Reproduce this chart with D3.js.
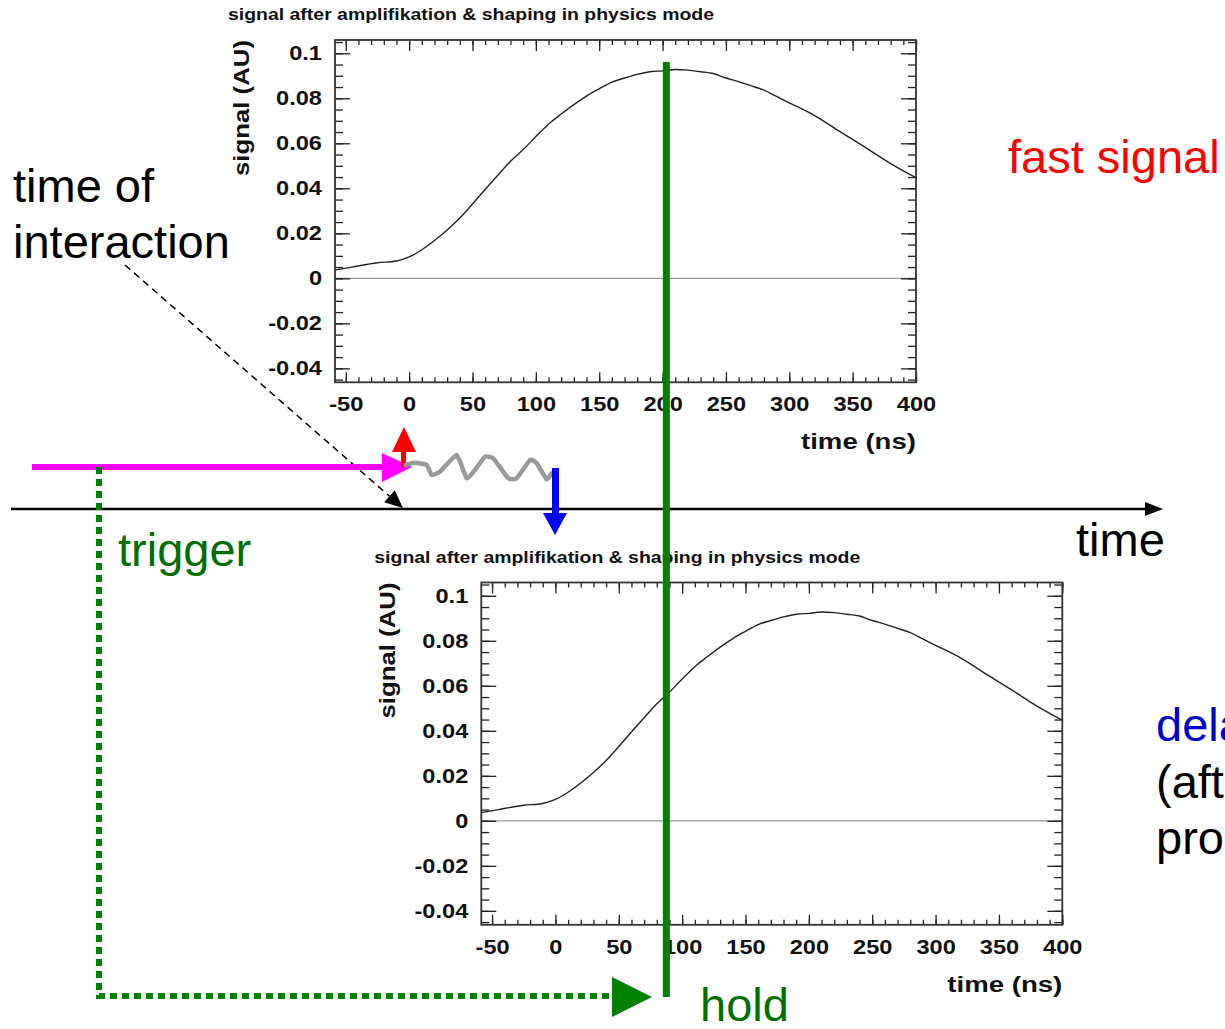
<!DOCTYPE html>
<html>
<head>
<meta charset="utf-8">
<script src="https://cdn.jsdelivr.net/npm/d3@7"></script>
<style>
  body { margin: 0; background: #fff; }
  svg { display: block; }
  .big { font-family: "Liberation Sans", Arial, sans-serif; font-size: 47px; }
  .bold { font-family: "Liberation Sans", Arial, sans-serif; font-weight: bold; }
</style>
</head>
<body>
<div class="chart"></div>
<script>
// shaped signal (AU) vs time (ns)
const times = [-58, -45, -25, -10, 0, 10, 20, 30, 40, 50, 60, 70, 80, 90, 100, 110, 120, 130, 140, 150,
  160, 170, 180, 190, 200, 210, 220, 230, 240, 250, 260, 270, 280, 290, 300, 320, 340, 360, 380, 400];
const signal = [0.0037, 0.0050, 0.0069, 0.0077, 0.0095, 0.0127, 0.0168, 0.0215, 0.0268, 0.0330,
  0.0395, 0.0458, 0.0520, 0.0572, 0.0630, 0.0685, 0.0730, 0.0772, 0.0810, 0.0842,
  0.0872, 0.0890, 0.0906, 0.0918, 0.0922, 0.0928, 0.0925, 0.0918, 0.0910, 0.0890,
  0.0874, 0.0855, 0.0836, 0.0808, 0.0780, 0.0723, 0.0652, 0.0582, 0.0510, 0.0447];

const xTicks = [-50, 0, 50, 100, 150, 200, 250, 300, 350, 400];
const xTickLabels = ["-50", "0", "50", "100", "150", "200", "250", "300", "350", "400"];
const yTicks = [-0.04, -0.02, 0, 0.02, 0.04, 0.06, 0.08, 0.1];
const yTickLabels = ["-0.04", "-0.02", "0", "0.02", "0.04", "0.06", "0.08", "0.1"];

const plotTitle = "signal after amplifikation & shaping in physics mode";
const xTitle = "time (ns)";
const yTitle = "signal (AU)";
const holdTime = 203; // ns, on the upper (fast) plot

var W = 1225, H = 1029;
var pw = 581, ph = 342.3;

const svg = d3.select(".chart").append("svg")
  .attr("width", W).attr("height", H);

var x = d3.scaleLinear().domain([-58.5, 400]).range([0, pw]);
var y = d3.scaleLinear().domain([-0.0462, 0.1059]).range([ph, 0]);

function stretch(sel, f) {
  sel.each(function () {
    var len = this.getComputedTextLength();
    d3.select(this).attr("textLength", len * f).attr("lengthAdjust", "spacingAndGlyphs");
  });
}

function drawPlot(left, top) {
  const g = svg.append("g").attr("transform", "translate(" + left + "," + top + ")");

  // zero line
  g.append("line")
    .attr("x1", 0).attr("x2", pw).attr("y1", y(0)).attr("y2", y(0))
    .attr("stroke", "#999").attr("stroke-width", 1.2);

  // curve
  var line = d3.line().x((d, i) => x(times[i])).y(d => y(d)).curve(d3.curveMonotoneX);
  g.append("path").datum(signal)
    .attr("d", line).attr("fill", "none")
    .attr("stroke", "#222").attr("stroke-width", 1.4);

  var xMinor = d3.range(-50, 401, 10);
  var yMinor = d3.range(-0.045, 0.1051, 0.005);

  function tidy(a) {
    a.select(".domain").remove();
    a.attr("font-size", null).attr("font-family", null);
    a.selectAll("line").attr("stroke", "#222").attr("stroke-width", 1.3);
  }

  // minor ticks, all four sides
  g.append("g").attr("transform", "translate(0," + ph + ")")
    .call(d3.axisBottom(x).tickValues(xMinor).tickSize(-5).tickFormat("")).call(tidy);
  g.append("g")
    .call(d3.axisTop(x).tickValues(xMinor).tickSize(-5).tickFormat("")).call(tidy);
  g.append("g")
    .call(d3.axisLeft(y).tickValues(yMinor).tickSize(-8).tickFormat("")).call(tidy);
  g.append("g").attr("transform", "translate(" + pw + ",0)")
    .call(d3.axisRight(y).tickValues(yMinor).tickSize(-8).tickFormat("")).call(tidy);

  // major ticks
  var xb = g.append("g").attr("class", "bold").attr("transform", "translate(0," + ph + ")")
    .call(d3.axisBottom(x).tickValues(xTicks).tickSize(-10).tickPadding(15)
      .tickFormat((d, i) => xTickLabels[i])).call(tidy);
  g.append("g")
    .call(d3.axisTop(x).tickValues(xTicks).tickSize(-11).tickFormat("")).call(tidy);
  var yl = g.append("g").attr("class", "bold")
    .call(d3.axisLeft(y).tickValues(yTicks).tickSize(-15).tickPadding(13)
      .tickFormat((d, i) => yTickLabels[i])).call(tidy);
  g.append("g").attr("transform", "translate(" + pw + ",0)")
    .call(d3.axisRight(y).tickValues(yTicks).tickSize(-15).tickFormat("")).call(tidy);

  xb.selectAll("text").style("font-size", "20px").attr("fill", "#111");
  yl.selectAll("text").style("font-size", "20px").attr("fill", "#111");
  stretch(xb.selectAll("text"), 1.18);
  stretch(yl.selectAll("text"), 1.18);

  // frame
  g.append("rect").attr("width", pw).attr("height", ph)
    .attr("fill", "none").attr("stroke", "#333").attr("stroke-width", 1.8);

  // titles
  g.append("text").attr("class", "bold")
    .attr("x", -107).attr("y", -20)
    .style("font-size", "17px").attr("fill", "#111")
    .attr("textLength", 486).attr("lengthAdjust", "spacingAndGlyphs")
    .text(plotTitle);
  g.append("text").attr("class", "bold")
    .attr("x", pw).attr("y", 409).attr("text-anchor", "end")
    .style("font-size", "22px").attr("fill", "#111")
    .attr("textLength", 115).attr("lengthAdjust", "spacingAndGlyphs")
    .text(xTitle);
  g.append("text").attr("class", "bold")
    .attr("transform", "translate(-86,0) rotate(-90)")
    .attr("text-anchor", "end")
    .style("font-size", "21.5px").attr("fill", "#111")
    .attr("textLength", 136).attr("lengthAdjust", "spacingAndGlyphs")
    .text(yTitle);
  return g;
}

drawPlot(335, 40);
drawPlot(481.3, 582.5);

// ---- diagram annotations ----
function tri(pts, color) {
  svg.append("path").attr("d", "M" + pts.map(p => p.join(",")).join("L") + "Z").attr("fill", color);
}

// time axis
svg.append("line").attr("x1", 11).attr("x2", 1150).attr("y1", 509).attr("y2", 509)
  .attr("stroke", "#000").attr("stroke-width", 2.5);
tri([[1145, 502], [1163, 509], [1145, 516]], "#000");

// dashed pointer from "time of interaction"
var p0 = [125, 265], p1 = [403, 508];
var ang = Math.atan2(p1[1] - p0[1], p1[0] - p0[0]);
var hl = 18, hw = 8;
var bx = p1[0] - hl * Math.cos(ang), by = p1[1] - hl * Math.sin(ang);
svg.append("line").attr("x1", p0[0]).attr("y1", p0[1]).attr("x2", bx).attr("y2", by)
  .attr("stroke", "#000").attr("stroke-width", 1.5).attr("stroke-dasharray", "7,5");
tri([p1, [bx + hw * Math.sin(ang), by - hw * Math.cos(ang)], [bx - hw * Math.sin(ang), by + hw * Math.cos(ang)]], "#000");

// trigger (magenta)
svg.append("line").attr("x1", 32).attr("x2", 384).attr("y1", 467).attr("y2", 467)
  .attr("stroke", "#ff00ff").attr("stroke-width", 6);
tri([[382, 453], [412, 467], [382, 482]], "#ff00ff");

// fast signal arrow (red)
svg.append("rect").attr("x", 401).attr("y", 450).attr("width", 5).attr("height", 17).attr("fill", "#ff0000");
tri([[392, 452], [416, 452], [404, 427]], "#ff0000");

// delay (grey wiggle)
const wiggle = [[405.7, 465], [415, 462.7], [426.7, 465], [431.7, 475], [440, 471.7], [456.7, 455],
  [466.7, 478.3], [475, 470], [485, 456.7], [493.3, 458.3], [508.3, 478.3], [516.7, 478.3],
  [530, 460], [536.7, 463.3], [546.7, 479.3], [551.7, 473.3]];
svg.append("path").attr("d", d3.line().curve(d3.curveCardinal.tension(0.6))(wiggle))
  .attr("fill", "none").attr("stroke", "#999").attr("stroke-width", 4.5)
  .attr("stroke-linejoin", "round").attr("stroke-linecap", "round");

// delayed signal arrow (blue)
svg.append("rect").attr("x", 552).attr("y", 468).attr("width", 7).attr("height", 46).attr("fill", "#0000ff");
tri([[543, 513], [567, 513], [555, 535]], "#0000ff");

// trigger -> hold (green dotted)
svg.append("path").attr("d", "M99,467 L99,996 L612,996")
  .attr("fill", "none").attr("stroke", "#008000").attr("stroke-width", 6).attr("stroke-dasharray", "7,5");
tri([[612, 977], [652, 997], [612, 1017]], "#008000");

// hold line
var hx = 335 + x(holdTime);
svg.append("line").attr("x1", hx).attr("x2", hx).attr("y1", 62).attr("y2", 997)
  .attr("stroke", "#008000").attr("stroke-width", 7);

// labels
function label(tx, ty, str, color) {
  svg.append("text").attr("class", "big").attr("x", tx).attr("y", ty).attr("fill", color).text(str);
}
label(13, 202, "time of", "#000");
label(13, 258, "interaction", "#000");
label(1008, 173, "fast signal", "#ff0000");
label(118, 566, "trigger", "#006e00");
label(1076, 556, "time", "#000");
label(700, 1021, "hold", "#006e00");
label(1156, 741, "delayed signal", "#0000d0");
label(1156, 798, "(after", "#000");
label(1156, 854, "processing)", "#000");
</script>
</body>
</html>
